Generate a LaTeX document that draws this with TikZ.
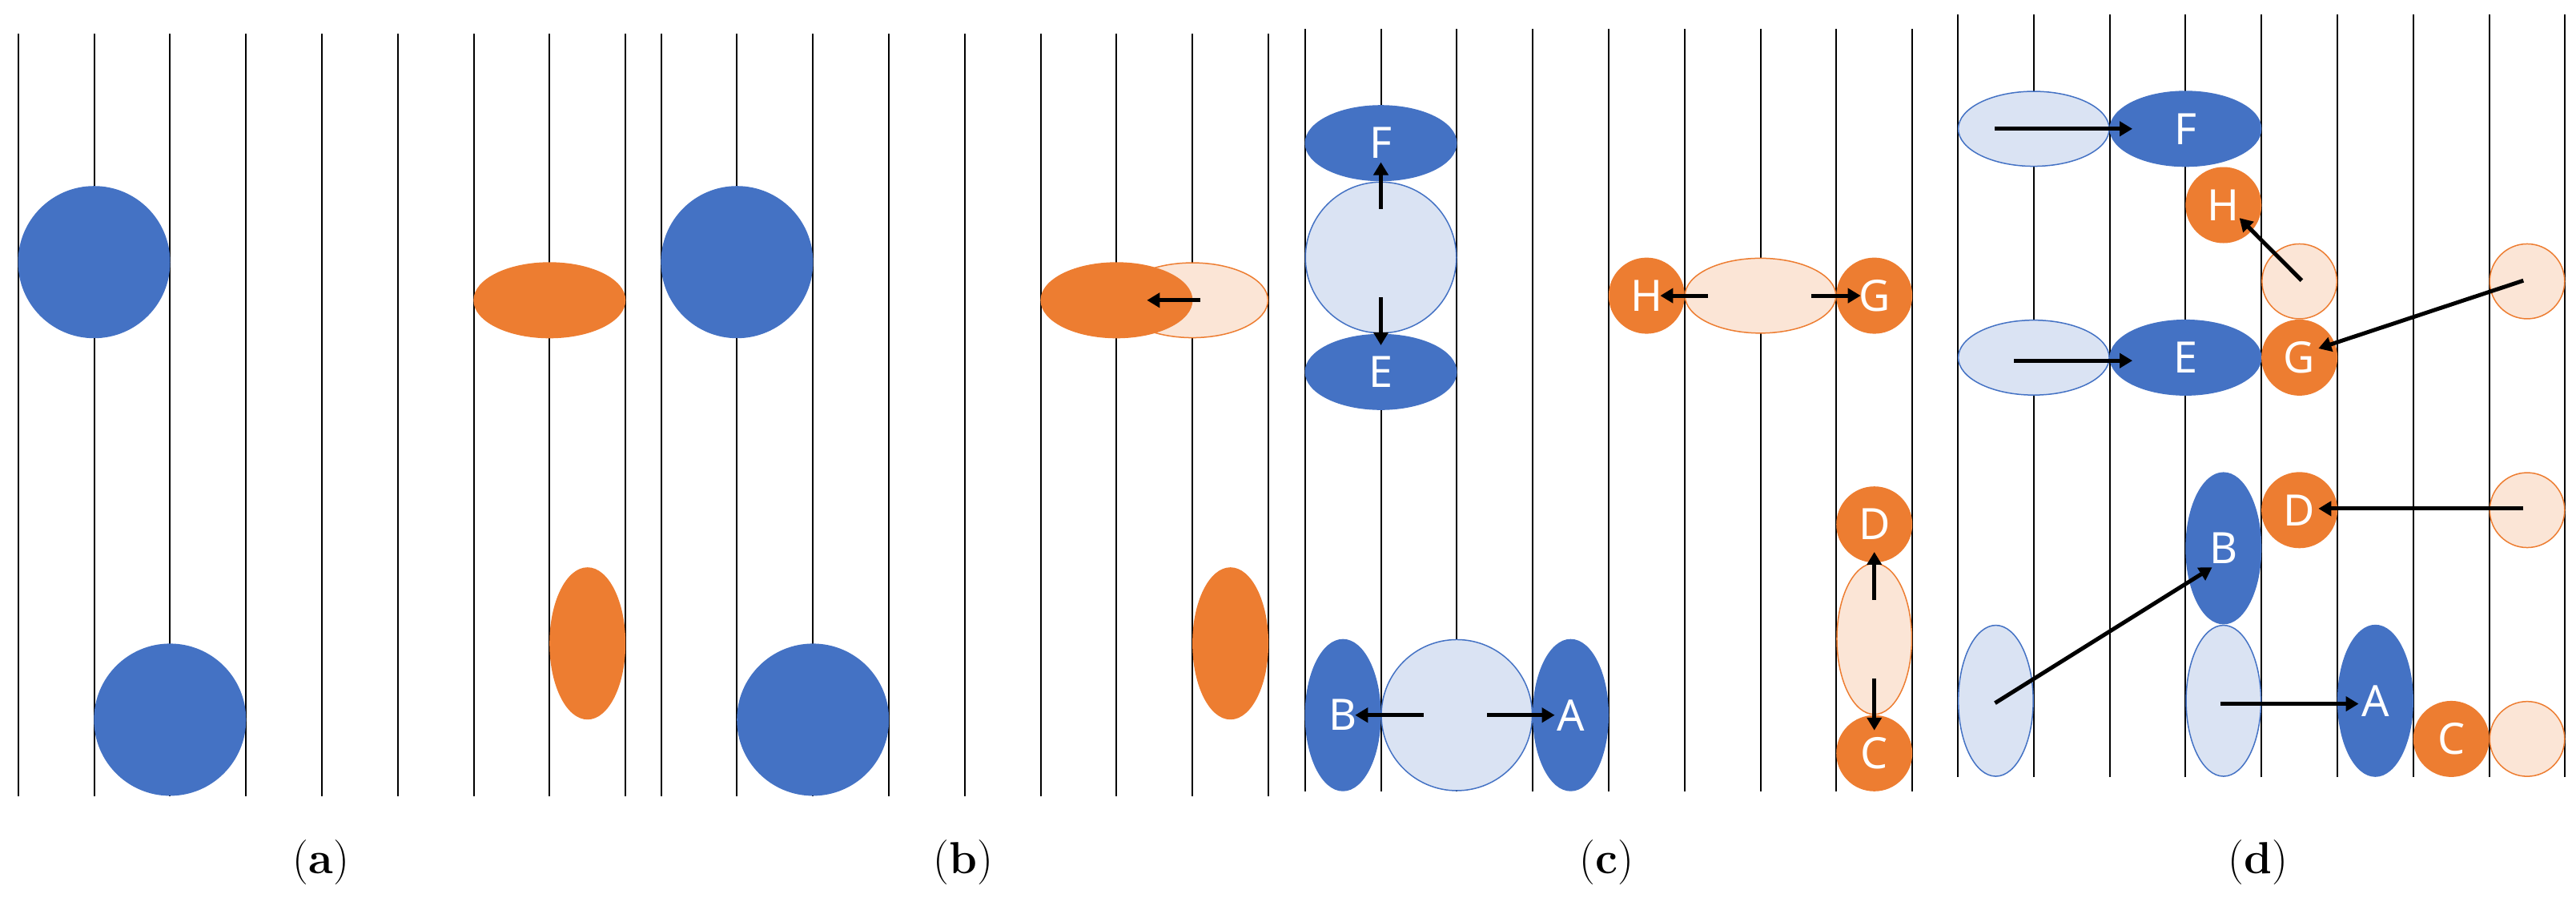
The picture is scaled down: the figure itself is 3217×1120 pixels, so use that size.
\documentclass[tikz,border=0pt]{standalone}
\usepackage{fontspec}
\newfontfamily\lab{Noto Sans}
\usetikzlibrary{shapes.geometric,arrows.meta}
\definecolor{bl}{HTML}{4472C4}
\definecolor{pbl}{HTML}{DAE3F3}
\definecolor{og}{HTML}{ED7D31}
\definecolor{pog}{HTML}{FBE5D6}
\tikzset{
 ell/.style={ellipse,inner sep=0pt,text=white,font=\lab\fontsize{54}{54}\selectfont},
 sb/.style={ell,fill=bl,draw=bl,line width=1.5pt},
 pb/.style={ell,fill=pbl,draw=bl,line width=1.5pt},
 so/.style={ell,fill=og,draw=og,line width=1.5pt},
 po/.style={ell,fill=pog,draw=og,line width=1.5pt},
 grid/.style={line width=2pt,black,step={(1,1)}},
 arr/.style={line width=5pt,-{Triangle[length=16pt,width=18pt]}},
 captxt/.style={font=\fontsize{56}{56}\selectfont}
}
\newcommand{\El}[7][sb]{\node[#1,minimum width=#5*95pt-1.5pt,minimum height=#6*95pt-1.5pt] (#2) at (#3,#4) {#7};}
\newcommand{\Ar}[5]{\coordinate (#1s) at (#2,#3); \coordinate (#1t) at (#4,#5); \draw[arr] (#1s) -- (#1t);}
\begin{document}
\begin{tikzpicture}[x=1pt,y=-1pt]
\useasboundingbox (0,0) rectangle (3217,1120);
% panel a
\begin{scope}[shift={(22.7,41.6)},x=94.8pt,y=-95.2pt]
\draw[grid] (0,0) grid (8,10);
\El[sb]{a1}{1}{3}{2}{2}{}
\El[so]{a2}{7}{3.5}{2}{1}{}
\El[sb]{a3}{2}{9}{2}{2}{}
\El[so]{a4}{7.5}{8}{1}{2}{}
\end{scope}
% panel b
\begin{scope}[shift={(825.6,41.6)},x=94.8pt,y=-95.2pt]
\draw[grid] (0,0) grid (8,10);
\El[sb]{b1}{1}{3}{2}{2}{}
\El[po]{b2}{7}{3.5}{2}{1}{}
\El[so]{b3}{6}{3.5}{2}{1}{}
\El[sb]{b4}{2}{9}{2}{2}{}
\El[so]{b5}{7.5}{8}{1}{2}{}
\Ar{b}{7.1}{3.5}{6.4}{3.5}
\end{scope}
% panel c
\begin{scope}[shift={(1629.7,35.9)},x=94.8pt,y=-95.2pt]
\draw[grid] (0,0) grid (8,10);
\El[sb]{cF}{1}{1.5}{2}{1}{F}
\El[pb]{cP1}{1}{3}{2}{2}{}
\El[sb]{cE}{1}{4.5}{2}{1}{E}
\El[po]{cP2}{6}{3.5}{2}{1}{}
\El[so]{cH}{4.5}{3.5}{1}{1}{H}
\El[so]{cG}{7.5}{3.5}{1}{1}{G}
\El[po]{cP3}{7.5}{8}{1}{2}{}
\El[so]{cD}{7.5}{6.5}{1}{1}{D}
\El[so]{cC}{7.5}{9.5}{1}{1}{C}
\El[pb]{cP4}{2}{9}{2}{2}{}
\El[sb]{cB}{0.5}{9}{1}{2}{B}
\El[sb]{cA}{3.5}{9}{1}{2}{A}
\Ar{c1}{1}{2.36}{1}{1.75}
\Ar{c2}{1}{3.52}{1}{4.15}
\Ar{c3}{5.31}{3.5}{4.68}{3.5}
\Ar{c4}{6.67}{3.5}{7.32}{3.5}
\Ar{c5}{7.5}{7.49}{7.5}{6.86}
\Ar{c6}{7.5}{8.52}{7.5}{9.2}
\Ar{c7}{1.56}{9}{0.66}{9}
\Ar{c8}{2.4}{9}{3.29}{9}
\end{scope}
% panel d
\begin{scope}[shift={(2445,18)},x=94.8pt,y=-95.2pt]
\draw[grid] (0,0) grid (8,10);
\El[pb]{dP1}{1}{1.5}{2}{1}{}
\El[sb]{dF}{3}{1.5}{2}{1}{F}
\El[so]{dH}{3.5}{2.5}{1}{1}{H}
\El[po]{dP2}{4.5}{3.5}{1}{1}{}
\El[po]{dP3}{7.5}{3.5}{1}{1}{}
\El[pb]{dP4}{1}{4.5}{2}{1}{}
\El[sb]{dE}{3}{4.5}{2}{1}{E}
\El[so]{dG}{4.5}{4.5}{1}{1}{G}
\El[so]{dD}{4.5}{6.5}{1}{1}{D}
\El[po]{dP5}{7.5}{6.5}{1}{1}{}
\El[sb]{dB}{3.5}{7}{1}{2}{B}
\El[pb]{dP6}{0.5}{9}{1}{2}{}
\El[pb]{dP7}{3.5}{9}{1}{2}{}
\El[sb]{dA}{5.5}{9}{1}{2}{A}
\El[so]{dC}{6.5}{9.5}{1}{1}{C}
\El[po]{dP8}{7.5}{9.5}{1}{1}{}
\Ar{d1}{0.49}{1.5}{2.3}{1.5}
\Ar{d2}{4.53}{3.49}{3.71}{2.67}
\Ar{d3}{7.45}{3.49}{4.75}{4.38}
\Ar{d4}{0.74}{4.54}{2.3}{4.54}
\Ar{d5}{7.45}{6.48}{4.75}{6.48}
\Ar{d6}{0.49}{9.03}{3.35}{7.25}
\Ar{d7}{3.46}{9.04}{5.28}{9.04}
\end{scope}
\node[captxt] (ca) at (401,1077) {(\textbf{a})};
\node[captxt] (cb) at (1203,1077) {(\textbf{b})};
\node[captxt] (cc) at (2006,1077) {(\textbf{c})};
\node[captxt] (cd) at (2820,1077) {(\textbf{d})};
\end{tikzpicture}
\end{document}
